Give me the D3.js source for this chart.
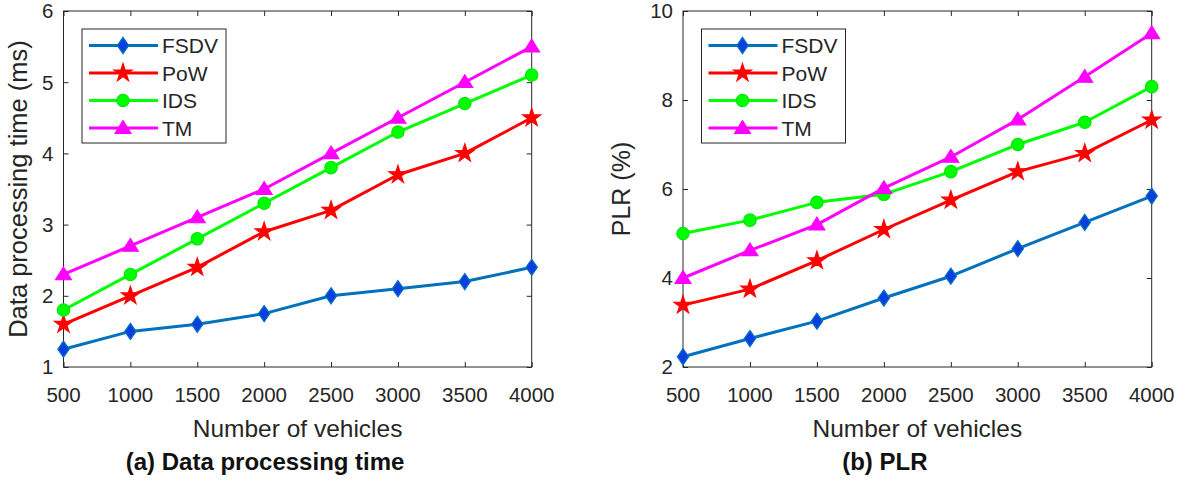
<!DOCTYPE html>
<html>
<head>
<meta charset="utf-8">
<script src="https://cdn.jsdelivr.net/npm/d3@7"></script>
<style>
  html, body { margin: 0; padding: 0; background: #fff; }
  svg { display: block; font-family: "Liberation Sans", Arial, Helvetica, sans-serif; }
</style>
</head>
<body>
<svg id="fig" width="1192" height="482"></svg>
<script>
// Number of vehicles (x categories)
const vehicles = [500, 1000, 1500, 2000, 2500, 3000, 3500, 4000];

// (a) Data processing time (ms)
const fsdvTime = [1.25, 1.5, 1.6, 1.75, 2.0, 2.1, 2.2, 2.4];
const powTime  = [1.6, 2.0, 2.4, 2.9, 3.2, 3.7, 4.0, 4.5];
const idsTime  = [1.8, 2.3, 2.8, 3.3, 3.8, 4.3, 4.7, 5.1];
const tmTime   = [2.3, 2.7, 3.1, 3.5, 4.0, 4.5, 5.0, 5.5];

// (b) Packet loss ratio (%)
const fsdvPlr = [2.23, 2.64, 3.03, 3.55, 4.04, 4.66, 5.25, 5.84];
const powPlr  = [3.39, 3.75, 4.39, 5.09, 5.75, 6.39, 6.8, 7.55];
const idsPlr  = [5.0, 5.3, 5.7, 5.88, 6.39, 7.0, 7.5, 8.3];
const tmPlr   = [4.0, 4.62, 5.2, 6.02, 6.72, 7.56, 8.52, 9.5];

// Tick labels
const timeTicks = [1, 2, 3, 4, 5, 6];
const plrTicks  = [2, 4, 6, 8, 10];

const seriesNames = ["FSDV", "PoW", "IDS", "TM"];

// Diamond symbol (taller than wide)
const diamondSym = {
  draw(ctx, size) {
    const h = Math.sqrt(size) * 0.62, w = h * 0.7;
    ctx.moveTo(0, -h); ctx.lineTo(w, 0); ctx.lineTo(0, h); ctx.lineTo(-w, 0); ctx.closePath();
  }
};
// Upward triangle
const triSym = {
  draw(ctx, size) {
    const r = Math.sqrt(size) * 0.6;
    ctx.moveTo(0, -r); ctx.lineTo(r * 1.08, r * 0.72); ctx.lineTo(-r * 1.08, r * 0.72); ctx.closePath();
  }
};

const styles = [
  { line: "#0072BD", fill: "#0a3ee0", stroke: "#0072BD", sym: diamondSym, size: 170 },
  { line: "#FF0000", fill: "#FF0000", stroke: "#FF0000", sym: d3.symbolStar, size: 100 },
  { line: "#00FF00", fill: "#00FF00", stroke: "#00e600", sym: d3.symbolCircle, size: 120 },
  { line: "#FF00FF", fill: "#FF00FF", stroke: "#FF00FF", sym: triSym, size: 150 }
];

const panels = [
  { left: 63.5, right: 531.7, domain: [1, 6], ticks: timeTicks,
    series: [fsdvTime, powTime, idsTime, tmTime],
    ylabel: "Data processing time (ms)", ylabelX: 27, ylabelSize: 25.5,
    title: "(a) Data processing time" },
  { left: 683, right: 1151.7, domain: [2, 10], ticks: plrTicks,
    series: [fsdvPlr, powPlr, idsPlr, tmPlr],
    ylabel: "PLR (%)", ylabelX: 630, ylabelSize: 25,
    title: "(b) PLR" }
];

const plotTop = 11, plotBottom = 367;
const axisColor = "#262626";
const svg = d3.select("#fig");

panels.forEach(p => {
  const g = svg.append("g");
  const x = d3.scaleLinear().domain([500, 4000]).range([p.left, p.right]);
  const y = d3.scaleLinear().domain(p.domain).range([plotBottom, plotTop]);
  const tickLen = 5;

  // inward ticks on all four sides
  g.append("g").attr("transform", `translate(0,${plotBottom})`)
    .call(d3.axisTop(x).tickValues(vehicles).tickSize(tickLen).tickFormat(""))
    .call(a => a.select(".domain").remove())
    .selectAll("line").attr("stroke", axisColor);
  g.append("g").attr("transform", `translate(0,${plotTop})`)
    .call(d3.axisBottom(x).tickValues(vehicles).tickSize(tickLen).tickFormat(""))
    .call(a => a.select(".domain").remove())
    .selectAll("line").attr("stroke", axisColor);
  g.append("g").attr("transform", `translate(${p.left},0)`)
    .call(d3.axisRight(y).tickValues(p.ticks).tickSize(tickLen).tickFormat(""))
    .call(a => a.select(".domain").remove())
    .selectAll("line").attr("stroke", axisColor);
  g.append("g").attr("transform", `translate(${p.right},0)`)
    .call(d3.axisLeft(y).tickValues(p.ticks).tickSize(tickLen).tickFormat(""))
    .call(a => a.select(".domain").remove())
    .selectAll("line").attr("stroke", axisColor);

  // box
  g.append("rect")
    .attr("x", p.left).attr("y", plotTop)
    .attr("width", p.right - p.left).attr("height", plotBottom - plotTop)
    .attr("fill", "none").attr("stroke", axisColor).attr("stroke-width", 1);

  // tick labels
  g.selectAll(".xl").data(vehicles).join("text")
    .attr("x", d => x(d)).attr("y", 402)
    .attr("text-anchor", "middle").attr("font-size", 20.5).attr("fill", axisColor)
    .text(d => d);
  g.selectAll(".yl").data(p.ticks).join("text")
    .attr("x", p.left - 10).attr("y", d => y(d)).attr("dy", "0.36em")
    .attr("text-anchor", "end").attr("font-size", 20.5).attr("fill", axisColor)
    .text(d => d);

  // axis labels
  g.append("text")
    .attr("x", (p.left + p.right) / 2).attr("y", 437)
    .attr("text-anchor", "middle").attr("font-size", 24.5).attr("fill", axisColor)
    .text("Number of vehicles");
  g.append("text")
    .attr("transform", `translate(${p.ylabelX},${(plotTop + plotBottom) / 2}) rotate(-90)`)
    .attr("text-anchor", "middle").attr("font-size", p.ylabelSize).attr("fill", axisColor)
    .text(p.ylabel);

  // panel caption
  g.append("text")
    .attr("x", (p.left + p.right) / 2 - 32.5).attr("y", 470)
    .attr("text-anchor", "middle").attr("font-size", 24).attr("font-weight", "bold")
    .attr("fill", "#111")
    .text(p.title);

  // series
  const line = d3.line().x((d, i) => x(vehicles[i])).y(d => y(d));
  p.series.forEach((vals, si) => {
    const st = styles[si];
    g.append("path").datum(vals)
      .attr("d", line).attr("fill", "none")
      .attr("stroke", st.line).attr("stroke-width", 3).attr("stroke-linejoin", "round");
    g.selectAll(null).data(vals).join("path")
      .attr("transform", (d, i) => `translate(${x(vehicles[i])},${y(d)})`)
      .attr("d", d3.symbol(st.sym, st.size))
      .attr("fill", st.fill).attr("stroke", st.stroke).attr("stroke-width", 1.2);
  });

  // legend
  const lx = p.left + 18.5, ly = 29;
  const leg = g.append("g");
  leg.append("rect")
    .attr("x", lx).attr("y", ly).attr("width", 144).attr("height", 114)
    .attr("fill", "#fff").attr("stroke", axisColor).attr("stroke-width", 1);
  const rowY = [45.5, 73, 100.5, 128];
  seriesNames.forEach((name, si) => {
    const st = styles[si];
    const ry = rowY[si];
    leg.append("line")
      .attr("x1", lx + 7).attr("x2", lx + 76).attr("y1", ry).attr("y2", ry)
      .attr("stroke", st.line).attr("stroke-width", 3);
    leg.append("path")
      .attr("transform", `translate(${lx + 41},${ry})`)
      .attr("d", d3.symbol(st.sym, st.size))
      .attr("fill", st.fill).attr("stroke", st.stroke).attr("stroke-width", 1.2);
    leg.append("text")
      .attr("x", lx + 80).attr("y", ry).attr("dy", "0.36em")
      .attr("font-size", 21).attr("fill", axisColor)
      .text(name);
  });
});
</script>
</body>
</html>
